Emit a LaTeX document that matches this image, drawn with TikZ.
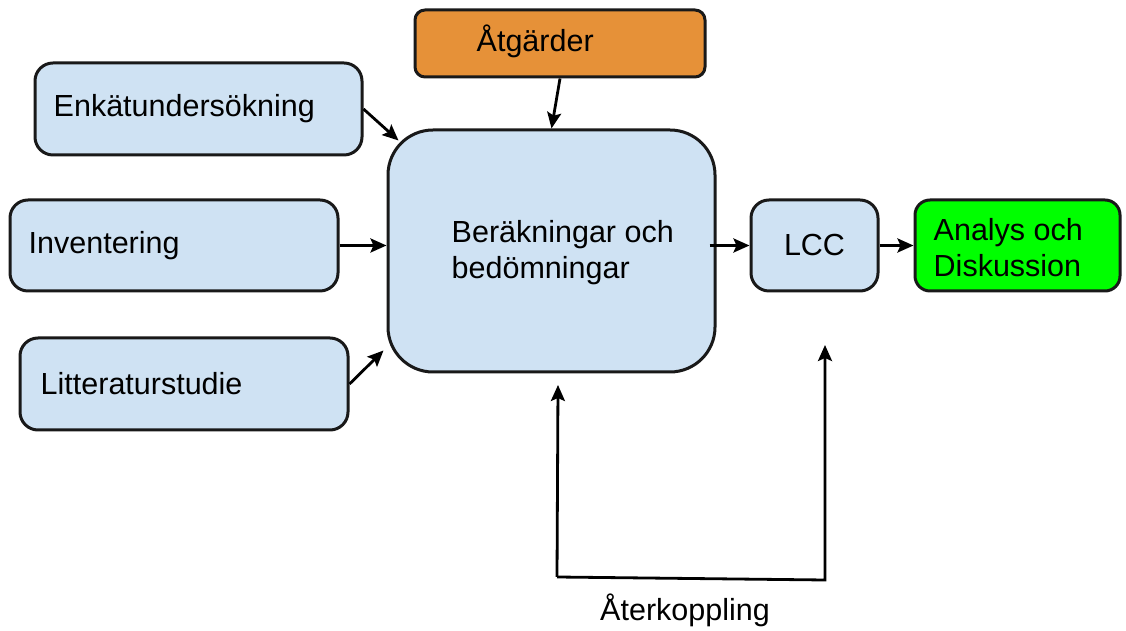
\documentclass[tikz,border=0pt]{standalone}
\usepackage{fontspec}
\setmainfont{Liberation Sans}
\usetikzlibrary{arrows.meta,calc}
\definecolor{boxblue}{HTML}{CFE2F3}
\definecolor{boxorange}{HTML}{E69138}
\definecolor{boxgreen}{HTML}{00FF00}
\begin{document}
\begin{tikzpicture}[x=1pt,y=1pt,
  box/.style={draw=black!90, line width=3pt, fill=boxblue, rounded corners=18pt, inner sep=0pt},
  txt/.style={font=\fontsize{30.5}{36}\selectfont, inner sep=0pt, anchor=west, align=left},
  arr/.style={-{Stealth[length=16pt,width=14pt,inset=3pt]}, line width=2.8pt}]
\useasboundingbox (0,0) rectangle (1126,631);
% boxes
\node[box, minimum width=327pt, minimum height=92pt] (enk) at (198.5,522) {};
\node[box, minimum width=328pt, minimum height=91pt] (inv) at (174,385.5) {};
\node[box, minimum width=328pt, minimum height=92pt] (lit) at (184,247) {};
\node[box, fill=boxorange, rounded corners=10pt, minimum width=290pt, minimum height=67pt] (atg) at (560,587.5) {};
\node[box, rounded corners=45pt, minimum width=327pt, minimum height=242pt] (ber) at (551.5,380) {};
\node[box, minimum width=127pt, minimum height=91pt, font=\fontsize{30.5}{36}\selectfont] (lcc) at (814.5,385.5) {LCC};
\node[box, fill=boxgreen, rounded corners=15pt, minimum width=205pt, minimum height=91pt] (ana) at (1017.5,385.5) {};
% texts
\node[txt] (tenk) at ([xshift=20pt]enk.west) {Enkätundersökning};
\node[txt] (tinv) at ([xshift=20pt]inv.west) {Inventering};
\node[txt] (tlit) at ([xshift=22pt]lit.west) {Litteraturstudie};
\node[txt] (tatg) at ([xshift=63pt,yshift=2pt]atg.west) {Åtgärder};
\node[txt] (tber) at ([xshift=65pt,yshift=-2pt]ber.west) {Beräkningar och\\bedömningar};
\node[txt] (tana) at ([xshift=20pt,yshift=-2pt]ana.west) {Analys och\\Diskussion};
\node[font=\fontsize{30.5}{36}\selectfont, inner sep=0pt] (fbl) at (685,21) {Återkoppling};
% connectors
\draw[arr] (enk.east) -- ([shift={(12pt,-12pt)}]ber.north west);
\draw[arr] (atg.south) -- (ber.north);
\draw[arr] (inv.east) -- (inv.east -| ber.west);
\draw[arr] (lit.east) -- ([shift={(-3pt,23pt)}]ber.south west);
\draw[arr] ([xshift=-7pt]ber.east |- lcc.west) -- (lcc.west);
\draw[arr] (lcc.east) -- (ana.west);
% feedback loop
\coordinate (fbbl) at (557,54);
\coordinate (fbbr) at (825,51);
\coordinate (fbtl) at (558,246);
\coordinate (fbtr) at (825,286);
\draw[arr] (fbbl) -- (fbtl);
\draw[arr] (fbbl) -- (fbbr) -- (fbtr);
\end{tikzpicture}
\end{document}
